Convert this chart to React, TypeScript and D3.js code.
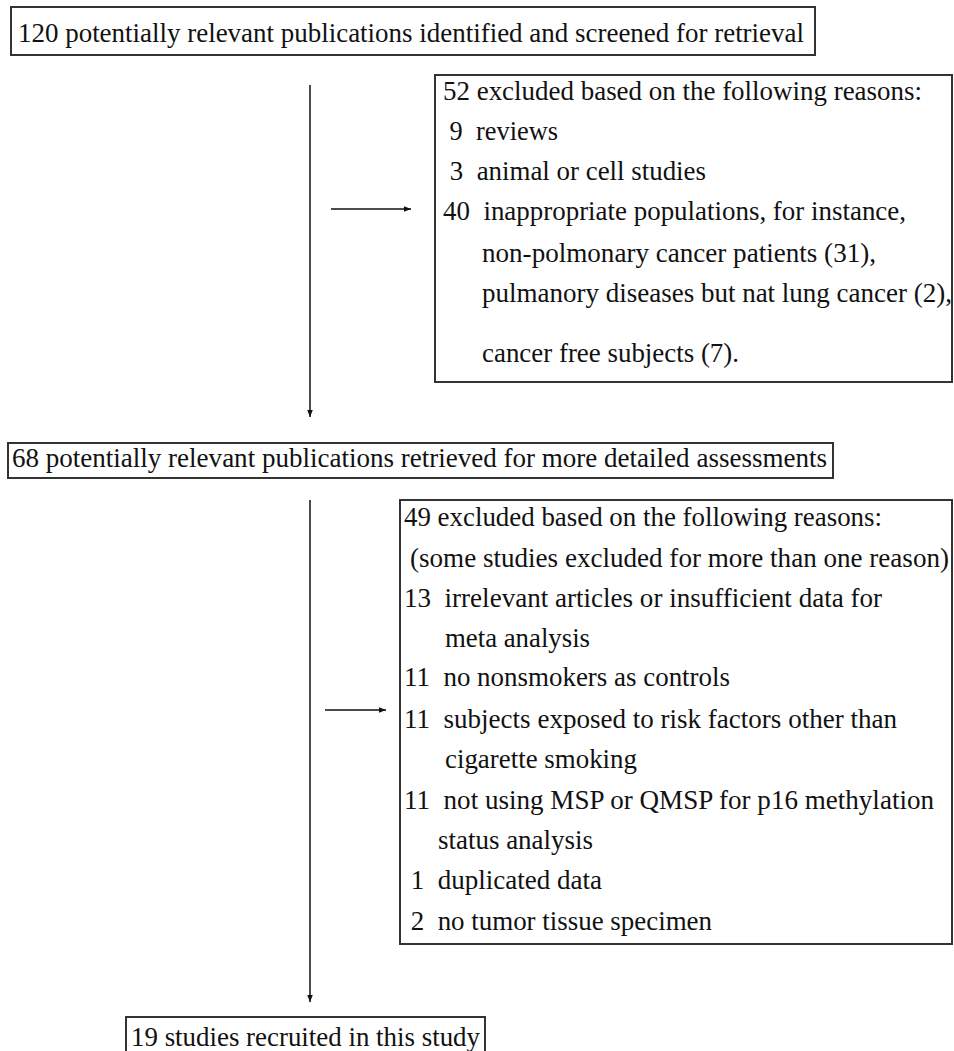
import * as d3 from "d3";
import { useEffect, useRef } from "react";

const stageLabels = [
  "120 potentially relevant publications identified and screened for retrieval",
  "68 potentially relevant publications retrieved for more detailed assessments",
  "19 studies recruited in this study",
];

const firstExclusions = [
  "52 excluded based on the following reasons:",
  " 9  reviews",
  " 3  animal or cell studies",
  "40  inappropriate populations, for instance,",
  "non-polmonary cancer patients (31),",
  "pulmanory diseases but nat lung cancer (2),",
  "cancer free subjects (7).",
];

const secondExclusions = [
  "49 excluded based on the following reasons:",
  "(some studies excluded for more than one reason)",
  "13  irrelevant articles or insufficient data for",
  "meta analysis",
  "11  no nonsmokers as controls",
  "11  subjects exposed to risk factors other than",
  "cigarette smoking",
  "11  not using MSP or QMSP for p16 methylation",
  "status analysis",
  " 1  duplicated data",
  " 2  no tumor tissue specimen",
];

// layout: [x0, x1, baseline] per line
const stageLayout = [
  { box: [11, 7, 804, 48], text: [18, 804, 42] },
  { box: [8, 443, 825, 35], text: [12, 827, 467] },
  { box: [126, 1017, 359, 40], text: [131, 480, 1046] },
];
const firstLayout = [
  [443, 922, 100], [443, 558, 140], [443, 706, 180], [443, 906, 220],
  [482, 876, 262], [482, 952, 302], [482, 739, 362],
];
const secondLayout = [
  [404, 882, 526], [410, 949, 567], [404, 882, 607], [445, 590, 647],
  [404, 730, 686], [404, 897, 728], [445, 637, 768], [404, 934, 809],
  [438, 593, 849], [404, 602, 889], [404, 712, 930],
];

export default function App() {
  const ref = useRef<SVGSVGElement>(null);
  useEffect(() => {
    const svg = d3.select(ref.current);
    svg.selectAll("*").remove();
    svg.append("defs").append("marker").attr("id", "ah")
      .attr("viewBox", "0 0 10 10").attr("refX", 10).attr("refY", 5)
      .attr("markerWidth", 5).attr("markerHeight", 5).attr("orient", "auto")
      .append("path").attr("d", "M0,1 L10,5 L0,9 Z").attr("fill", "#111");

    const addText = (t: string, [x0, x1, y]: number[]) =>
      svg.append("text").attr("x", x0).attr("y", y)
        .attr("textLength", x1 - x0).attr("lengthAdjust", "spacingAndGlyphs")
        .attr("font-family", "Liberation Serif, Times New Roman, Tinos, serif")
        .attr("font-size", 27).style("white-space", "pre").attr("fill", "#111")
        .text(t);

    const rect = (x: number, y: number, w: number, h: number) =>
      svg.append("rect").attr("x", x).attr("y", y).attr("width", w).attr("height", h)
        .attr("fill", "none").attr("stroke", "#333").attr("stroke-width", 2);

    const line = (x1: number, y1: number, x2: number, y2: number) =>
      svg.append("line").attr("x1", x1).attr("y1", y1).attr("x2", x2).attr("y2", y2)
        .attr("stroke", "#111").attr("stroke-width", 1.5).attr("marker-end", "url(#ah)");

    stageLabels.forEach((t, i) => {
      const { box, text } = stageLayout[i];
      rect(box[0], box[1], box[2], box[3]);
      addText(t, text);
    });
    rect(435, 75, 517, 307);
    firstExclusions.forEach((t, i) => addText(t, firstLayout[i]));
    rect(400, 500, 552, 444);
    secondExclusions.forEach((t, i) => addText(t, secondLayout[i]));

    line(310, 85, 310, 417);
    line(331, 209, 411, 209);
    line(310, 500, 310, 1002);
    line(325, 710, 386, 710);
  }, []);
  return (
    <svg ref={ref} width={954} height={1051}
      style={{ position: "absolute", left: 0, top: 0, background: "#fff" }} />
  );
}
